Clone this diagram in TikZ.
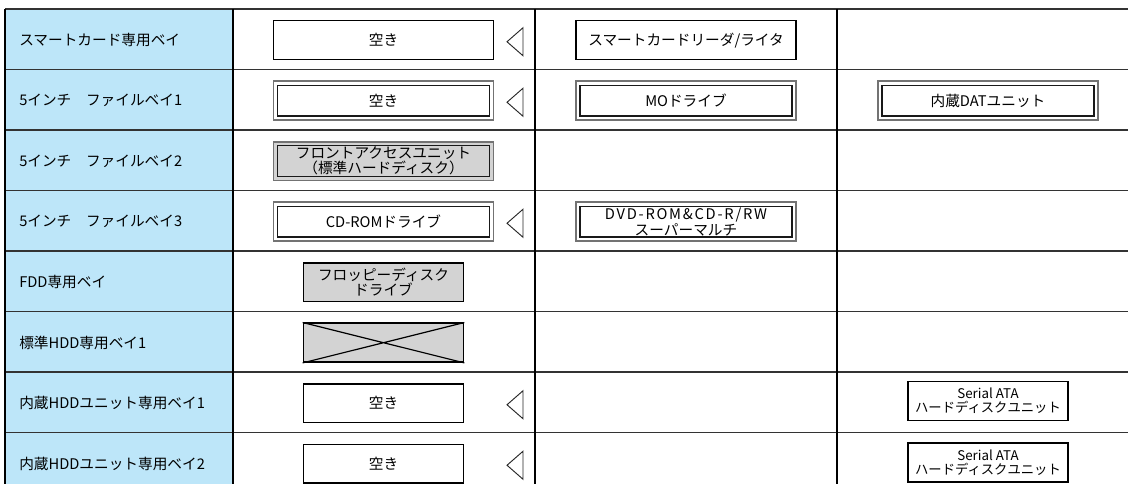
\documentclass[tikz,border=0pt]{standalone}
\usepackage{fontspec}
\setmainfont{Noto Sans CJK JP}
\usetikzlibrary{positioning}
\definecolor{baybg}{RGB}{189,230,249}
\definecolor{unitgray}{RGB}{211,211,211}
\tikzset{gridline/.style = {draw=black!80, line width=1.1pt},
         baylabel/.style = {anchor=west, inner sep=0pt, font=\fontsize{11}{11}\selectfont},
         unit/.style = {draw=black, line width=0.9pt, fill=white, inner sep=0pt,
                        minimum width=165pt, minimum height=29pt, align=center,
                        font=\fontsize{11}{10}\selectfont},
         dunit/.style = {unit, draw=black!55, line width=1.3pt,
                         path picture={\draw [black!90, line width=0.8pt]
                           ([shift={(3pt,-3pt)}]path picture bounding box.north west) rectangle
                           ([shift={(-3pt,3pt)}]path picture bounding box.south east);}},
         sunit/.style = {unit, line width=1.3pt, minimum width=120pt},
         sataunit/.style = {sunit, line width=1.1pt, font=\fontsize{10}{10.5}\selectfont},
         slotmark/.style = {draw=black!85, line width=0.7pt, line join=miter}}

\begin{document}
\begin{tikzpicture}[x=0.75pt, y=-0.75pt]
      \useasboundingbox (0, 0) rectangle (1128, 484);
      \fill [baybg] (5, 9) rectangle (233, 484);
      \foreach \i in {0,...,7}
        \draw [gridline] (5, {9+60.5*\i}) -- (1128, {9+60.5*\i});
      \foreach \x in {5, 233, 535, 837}
        \draw [gridline, draw=black, line width=0.9pt] (\x, 9) -- (\x, 484);
      \foreach \t [count=\i] in {スマートカード専用ベイ, 5インチ　ファイルベイ1, 5インチ　ファイルベイ2,
                                 5インチ　ファイルベイ3, FDD専用ベイ, 標準HDD専用ベイ1,
                                 内蔵HDDユニット専用ベイ1, 内蔵HDDユニット専用ベイ2}
        \node [baylabel] (bay\i) at (19, {40+60.5*(\i-1)}) {\t};
      \foreach \r in {1, 2, 4, 7, 8}
        \draw [slotmark] (523, {27.75+60.5*(\r-1)}) -- (507, {41.75+60.5*(\r-1)})
                         -- (523, {55.75+60.5*(\r-1)}) -- cycle;
      \node [unit] (empty1) at (383.5, 40.2) {空き};
      \node [unit] (reader) at (686, 40.2) {スマートカードリーダ/ライタ};
      \node [dunit] (empty2) at (383.5, 100.7) {空き};
      \node [dunit] (mo) at (686, 100.7) {MOドライブ};
      \node [dunit] (dat) at (988, 100.7) {内蔵DATユニット};
      \node [dunit, fill=unitgray] (fau) at (383.5, 161.2) {フロントアクセスユニット\\（標準ハードディスク）};
      \node [dunit] (cdrom) at (383.5, 221.7) {CD-ROMドライブ};
      \node [dunit] (dvd) at (686, 221.7) {{\addfontfeature{LetterSpace=12}DVD-ROM\&CD-R/RW}\\スーパーマルチ};
      \node [sunit, fill=unitgray] (fdd) at (383.5, 282.2) {フロッピーディスク\\ドライブ};
      \node [sunit, fill=unitgray] (hdd) at (383.5, 342.7) {};
      \draw [line width=0.9pt] (hdd.north west) -- (hdd.south east) (hdd.north east) -- (hdd.south west);
      \node [sunit] (empty7) at (383.5, 403.2) {空き};
      \node [sunit] (empty8) at (383.5, 463.7) {空き};
      \node [sataunit] (sata1) at (988, 401) {Serial ATA\\ハードディスクユニット};
      \node [sataunit] (sata2) at (988, 462.5) {Serial ATA\\ハードディスクユニット};
\end{tikzpicture}
\end{document}
